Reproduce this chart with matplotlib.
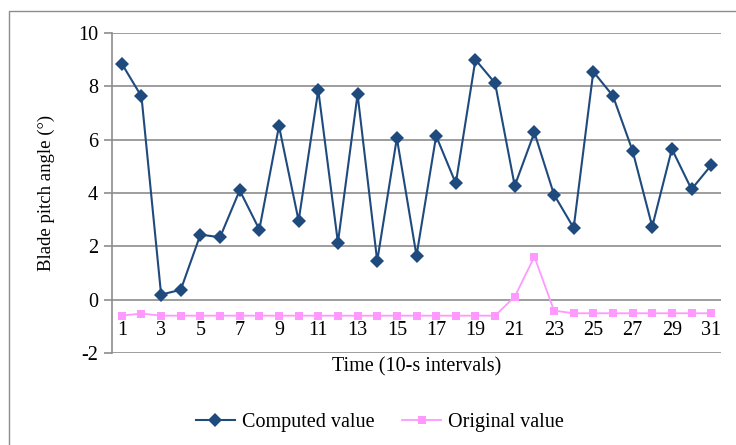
import matplotlib
matplotlib.use("Agg")
import matplotlib.pyplot as plt
from matplotlib.patches import Rectangle
from matplotlib.lines import Line2D

plt.rcParams['font.family'] = ['Liberation Serif', 'DejaVu Serif']

intervals = list(range(1, 32))
computed = [8.85, 7.62, 0.19, 0.37, 2.44, 2.34, 4.10, 2.63, 6.51, 2.96,
            7.86, 2.14, 7.70, 1.45, 6.06, 1.65, 6.14, 4.36, 9.00, 8.12,
            4.27, 6.27, 3.94, 2.69, 8.55, 7.64, 5.58, 2.74, 5.65, 4.14, 5.04]
original = [-0.60, -0.52, -0.60, -0.60, -0.60, -0.60, -0.60, -0.60, -0.60, -0.60,
            -0.60, -0.60, -0.60, -0.60, -0.60, -0.60, -0.60, -0.60, -0.60, -0.60,
            0.11, 1.61, -0.41, -0.51, -0.51, -0.51, -0.51, -0.51, -0.51, -0.51, -0.51]
y_ticks = [-2, 0, 2, 4, 6, 8, 10]
x_tick_labels = [str(i) for i in range(1, 32, 2)]

navy = '#1F4A7E'
pink = '#FF99FF'
grid = '#8C8C8C'

W, H = 736, 445
fig = plt.figure(figsize=(W / 100, H / 100), dpi=100)

# outer chart frame
fig.add_artist(Rectangle((9 / W, -0.1), 1.2, 1 - 11 / H + 0.1, transform=fig.transFigure,
                         fill=False, edgecolor=grid, linewidth=1.0))

ax = fig.add_axes([112 / W, 1 - 353 / H, (721 - 112) / W, (353 - 33) / H])
ax.set_xlim(0.5, 31.5)
ax.set_ylim(-2, 10)

for y in y_ticks:
    ax.axhline(y, color=grid, linewidth=1.2, zorder=1)

ax.plot(intervals, original, color=pink, linewidth=1.3, marker='s', markersize=6,
        markeredgewidth=0, zorder=3, label='Original value')
ax.plot(intervals, computed, color=navy, linewidth=1.5, marker='D', markersize=7,
        markeredgewidth=0, zorder=4, label='Computed value')

for s in ['top', 'right', 'bottom']:
    ax.spines[s].set_visible(False)
ax.spines['left'].set_color(grid)
ax.spines['left'].set_linewidth(1.2)

ax.set_yticks(y_ticks)
ax.set_yticklabels([str(v) for v in y_ticks], fontsize=14.5)
ax.tick_params(axis='y', direction='out', length=6, width=1.2, color=grid, pad=4)
ax.set_xticks([])

for i, lab in zip(range(1, 32, 2), x_tick_labels):
    ax.text(i, -1.15, lab, ha='center', va='center', fontsize=14.5, zorder=5)

fig.text(417 / W, 1 - 367 / H, 'Time (10-s intervals)', ha='center', va='center', fontsize=14.5)
fig.text(46 / W, 1 - 193 / H, 'Blade pitch angle (°)', ha='center', va='center',
         rotation=90, fontsize=13.5)

handles = [Line2D([], [], color=navy, linewidth=1.5, marker='D', markersize=7, markeredgewidth=0),
           Line2D([], [], color=pink, linewidth=1.3, marker='s', markersize=6, markeredgewidth=0)]
fig.legend(handles, ['Computed value', 'Original value'], loc='center',
           bbox_to_anchor=(380 / W, 1 - 422 / H), ncol=2, frameon=False, fontsize=14.5,
           handlelength=1.9, handletextpad=0.35, columnspacing=1.4)

fig.savefig('out.png', dpi=100)
